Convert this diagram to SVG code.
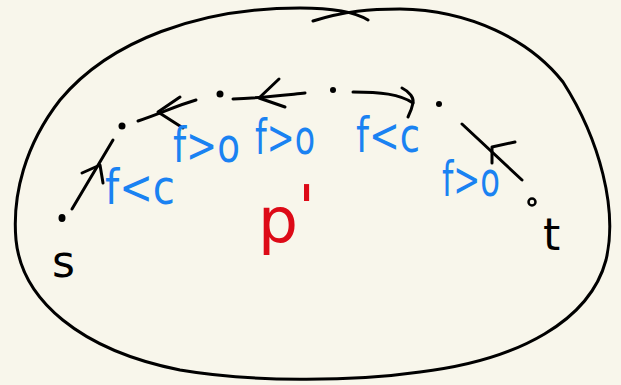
<svg xmlns="http://www.w3.org/2000/svg" width="621" height="385" viewBox="0 0 621 385">
<style>
.ln{fill:none;stroke:#000;stroke-width:3;stroke-linecap:round;stroke-linejoin:round}
.dot{fill:#000}
.b{fill:#1a82f2;font-family:"DejaVu Sans",sans-serif;font-size:48px}
.k{fill:#000;font-family:"DejaVu Sans",sans-serif;font-size:44px}
.r{fill:#dd0a17;font-family:"DejaVu Sans",sans-serif;font-size:62px}
</style>
<rect width="621" height="385" fill="#f8f6eb"/>
<g id="region">
<path class="ln" d="M368 20 C355 12,335 8,300 8 C200 8,110 40,60 100 C25 145,12 195,16 240 C22 300,80 350,180 370 C250 382,350 382,420 372 C520 360,590 320,606 260 C618 210,600 140,563 82 C530 40,470 10,400 9 C370 9,345 11,313 21"/>
<text class="r" x="258" y="242" textLength="40" lengthAdjust="spacingAndGlyphs">p</text>
<text class="r" x="298" y="230" font-size="36">'</text>
</g>
<g id="s"><ellipse class="dot" cx="62" cy="218" rx="3.5" ry="4"/><text class="k" x="52" y="277" font-size="40">s</text></g>
<g id="v1"><circle class="dot" cx="122" cy="126" r="3.5"/></g>
<g id="v2"><circle class="dot" cx="220" cy="94" r="3.5"/></g>
<g id="v3"><circle class="dot" cx="333" cy="90" r="3"/></g>
<g id="v4"><circle class="dot" cx="439" cy="104" r="3"/></g>
<g id="t"><circle cx="532" cy="202" r="3.5" fill="none" stroke="#000" stroke-width="2.5"/><text class="k" x="543" y="250">t</text></g>
<g id="connectors">
<path class="ln" d="M72 209 L113 140"/>
<path class="ln" d="M82 173 L100 165 L103 183"/>
<path class="ln" d="M138 121 C160 114,175 106,196 100"/>
<path class="ln" d="M180 97 L158 112 L183 128"/>
<path class="ln" d="M233 99 C260 98,285 95,305 93"/>
<path class="ln" d="M279 79 L259 98 L285 107"/>
<path class="ln" d="M353 92 C380 92,400 94,413 103"/>
<path class="ln" d="M402 88 C410 92,414 98,413 103 C412 108,410 113,408 117"/>
<path class="ln" d="M522 180 L462 124"/>
<path class="ln" d="M515 142 L492 147 L492 163"/>
</g>
<g id="labels">
<text class="b" x="105" y="204" textLength="70" lengthAdjust="spacingAndGlyphs">f&lt;c</text>
<text class="b" x="173" y="162" textLength="67" lengthAdjust="spacingAndGlyphs">f&gt;o</text>
<text class="b" x="255" y="154" textLength="60" lengthAdjust="spacingAndGlyphs">f&gt;o</text>
<text class="b" x="356" y="152" textLength="64" lengthAdjust="spacingAndGlyphs">f&lt;c</text>
<text class="b" x="442" y="196" textLength="58" lengthAdjust="spacingAndGlyphs">f&gt;o</text>
</g>
</svg>
